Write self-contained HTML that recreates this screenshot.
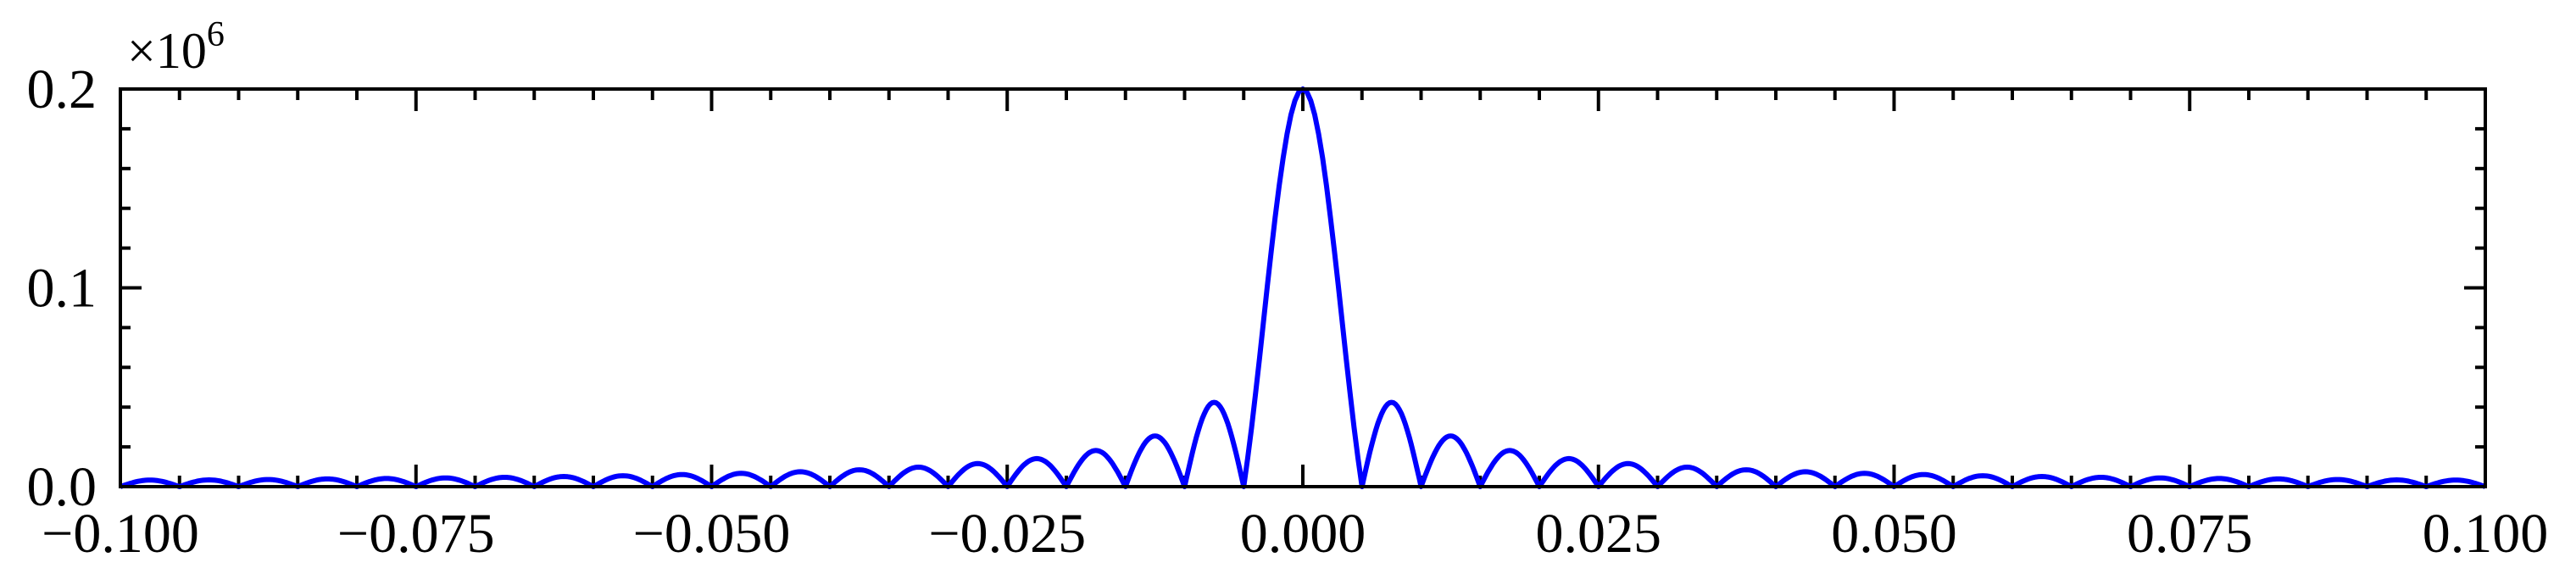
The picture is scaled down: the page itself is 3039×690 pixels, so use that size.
<!DOCTYPE html>
<html><head><meta charset="utf-8"><style>
body{margin:0;background:#fff}
svg text{font-family:"Liberation Serif",serif;fill:#000}
</style></head><body>
<svg id="chart" width="3039" height="685" viewBox="0 0 3039 685" xmlns="http://www.w3.org/2000/svg">
<g id="ticks"></g>
<path id="curve" fill="none" stroke="#0000ff" stroke-width="6" stroke-linejoin="round"/>
<rect x="142" y="105" width="2790" height="469" fill="none" stroke="#000" stroke-width="4"/>
<g id="labels"></g>
<text x="150" y="80" font-size="60">×10<tspan dy="-26" font-size="42">6</tspan></text>
</svg>
<script>
const xTicks=[-0.1,-0.075,-0.05,-0.025,0,0.025,0.05,0.075,0.1];
const xTickLabels=["−0.100","−0.075","−0.050","−0.025","0.000","0.025","0.050","0.075","0.100"];
const yTicks=[0,0.1,0.2];
const yTickLabels=["0.0","0.1","0.2"];
const lobeWidth=0.005;
const mainPeak=0.2;
const sideLobeHeights=[0.0424,0.0255,0.0182,0.0141,0.0116,0.0098,0.0085,0.0075,0.0067,0.0061,0.0055,0.0051,0.0047,0.0044,0.0041,0.0039,0.0036,0.0034,0.0033];
const X0=142,X1=2932,Y0=574,Y1=105;
const xs=v=>X0+(v+0.1)/0.2*(X1-X0);
const ys=v=>Y0-v/0.2*(Y0-Y1);
const NS="http://www.w3.org/2000/svg";
const tg=document.getElementById('ticks'),lg=document.getElementById('labels');
function line(x1,y1,x2,y2,name){const l=document.createElementNS(NS,'line');
l.setAttribute('x1',x1);l.setAttribute('y1',y1);l.setAttribute('x2',x2);l.setAttribute('y2',y2);
l.setAttribute('stroke','#000');l.setAttribute('stroke-width','4');


tg.appendChild(l);}
for(let i=0;i<=40;i++){const v=-0.1+i*0.005;const x=xs(v);const L=(i%5===0)?26:13;
line(x,Y0,x,Y0-L,'x-tick');line(x,Y1,x,Y1+L,'x-tick-top');}
for(let i=0;i<=10;i++){const v=i*0.02;const y=ys(v);const L=(i%5===0)?25:12;
line(X0,y,X0+L,y,'y-tick');line(X1,y,X1-L,y,'y-tick-right');}
xTicks.forEach((v,i)=>{const t=document.createElementNS(NS,'text');t.setAttribute('x',xs(v));t.setAttribute('y',651);
t.setAttribute('font-size','66');t.setAttribute('text-anchor','middle');t.textContent=xTickLabels[i];


lg.appendChild(t);});
yTicks.forEach((v,i)=>{const t=document.createElementNS(NS,'text');t.setAttribute('x',114);t.setAttribute('y',ys(v)+22);
t.setAttribute('font-size','66');t.setAttribute('text-anchor','end');t.textContent=yTickLabels[i];


lg.appendChild(t);});
const pts=[];
const N=30;
const segs=[];
for(let k=sideLobeHeights.length;k>=1;k--)segs.push({a:-(k+1)*lobeWidth,b:-k*lobeWidth,h:sideLobeHeights[k-1],main:false});
segs.push({a:-lobeWidth,b:lobeWidth,h:mainPeak,main:true});
for(let k=1;k<=sideLobeHeights.length;k++)segs.push({a:k*lobeWidth,b:(k+1)*lobeWidth,h:sideLobeHeights[k-1],main:false});
segs.forEach(s=>{for(let j=0;j<=N;j++){const u=j/N;const v=s.a+(s.b-s.a)*u;let y;
 if(s.main){const t=(u*2-1)*Math.PI;y=s.h*(Math.abs(t)<1e-9?1:Math.sin(t)/t);}else y=s.h*Math.sin(Math.PI*u);
 if(v<-0.1||v>0.1)continue;pts.push([xs(v),ys(y)]);}});
document.getElementById('curve').setAttribute('d','M'+pts.map(p=>p[0].toFixed(1)+','+p[1].toFixed(1)).join('L'));
</script>
</body></html>
